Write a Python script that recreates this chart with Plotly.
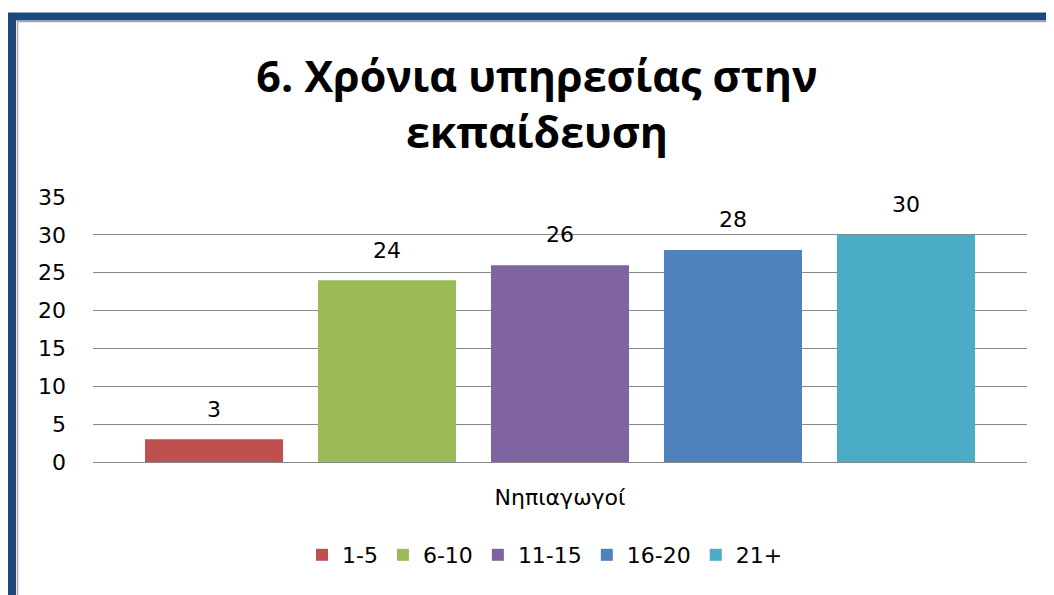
import plotly.graph_objects as go

category = ["Νηπιαγωγοί"]
groups = ["1-5", "6-10", "11-15", "16-20", "21+"]
values = [3, 24, 26, 28, 30]
colors = ["#C0504D", "#9BBB59", "#8064A2", "#4F81BD", "#4BACC6"]

# the page puts the figure 8px in from the top-left corner
W, H = 1046, 587
L, R, T, B = 85, 27, 189, 133
font = "DejaVu Sans"
title_font = "Open Sans"

fig = go.Figure()
for g, v, c in zip(groups, values, colors):
    fig.add_trace(go.Bar(
        x=category, y=[v], name=g, offsetgroup=g,
        marker=dict(color=c, line=dict(width=0)),
    ))
# data labels, lifted a little above the bars
for g, v in zip(groups, values):
    fig.add_trace(go.Scatter(
        x=category, y=[v], offsetgroup=g, mode="markers+text",
        text=[v], textposition="top center",
        textfont=dict(size=22, color="#000000", family=font),
        marker=dict(size=26, color="rgba(0,0,0,0)"),
        showlegend=False, hoverinfo="skip", cliponaxis=False,
    ))

def px_x(p):
    return (p - L) / (W - L - R)

def px_y(p):
    return (H - B - p) / (H - T - B)

shapes = [
    dict(type="rect", xref="paper", yref="paper",
         x0=px_x(4), x1=px_x(1075), y0=px_y(620), y1=px_y(8.5),
         line=dict(color="#1F497D", width=8), fillcolor="rgba(0,0,0,0)", layer="above"),
    dict(type="rect", xref="paper", yref="paper",
         x0=px_x(9.5), x1=px_x(1075), y0=px_y(620), y1=px_y(13.5),
         line=dict(color="#A6A6A6", width=1.5), fillcolor="rgba(0,0,0,0)", layer="above"),
]

fig.update_layout(
    width=W, height=H,
    margin=dict(l=L, r=R, t=T, b=B),
    paper_bgcolor="white", plot_bgcolor="white",
    font=dict(family=font, color="#000000", size=22),
    title=dict(
        text="<b>6. Χρόνια υπηρεσίας στην<br>εκπαίδευση</b>",
        x=529 / W, xref="container", xanchor="center",
        y=1 - 84 / H, yref="container", yanchor="middle",
        font=dict(size=43, family=title_font, color="#000000"),
    ),
    barmode="group", bargap=0.074, bargroupgap=0.202,
    scattermode="group", scattergap=0.074,
    showlegend=True,
    legend=dict(orientation="h", x=537 / W, xref="container", xanchor="center",
                y=1 - 547 / H, yref="container", yanchor="middle",
                font=dict(size=22, family=font), itemwidth=30,
                traceorder="normal"),
    shapes=shapes,
)
fig.update_yaxes(range=[0, 35], dtick=5, showgrid=True, gridcolor="#888888",
                 gridwidth=1, zeroline=False, showline=False,
                 ticks="", ticklabelstandoff=26,
                 tickfont=dict(size=22, family=font))
fig.update_xaxes(showline=True, linecolor="#888888", linewidth=1,
                 ticks="", ticklabelstandoff=16,
                 tickfont=dict(size=22, family=font))

fig.write_html("out.html")
